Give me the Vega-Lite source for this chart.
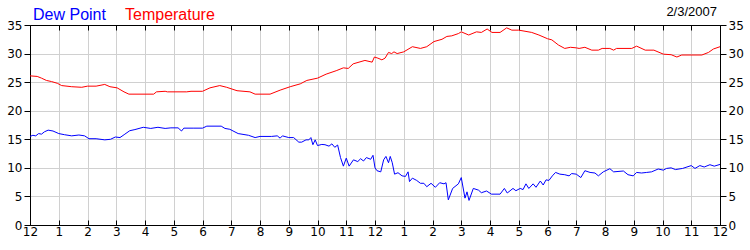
{
  "$schema": "https://vega.github.io/schema/vega-lite/v6.json",
  "width": 690,
  "height": 200,
  "autosize": {"type": "none"},
  "padding": {"left": 30, "top": 25, "right": 30, "bottom": 25},
  "background": "white",
  "title": {"text": "2/3/2007", "anchor": "end", "orient": "top", "frame": "group", "font": "Liberation Sans", "fontSize": 13, "fontWeight": "normal", "color": "#000000", "offset": -30, "dx": -3, "baseline": "alphabetic"},
  "config": {
    "view": {"stroke": "#000000", "strokeWidth": 1},
    "axis": {"labelFont": "DejaVu Sans", "labelFontSize": 12, "labelColor": "#000000", "domainColor": "#000000", "tickColor": "#000000", "gridColor": "#d0d0d0", "gridOpacity": 1, "titleFontSize": 0}
  },
  "data": {"values": [
    {"h":0.0,"s":"Dew Point","v":15.5},{"h":0.1,"s":"Dew Point","v":15.7},{"h":0.2,"s":"Dew Point","v":15.6},{"h":0.3,"s":"Dew Point","v":16.0},{"h":0.4,"s":"Dew Point","v":15.9},{"h":0.5,"s":"Dew Point","v":16.3},{"h":0.63,"s":"Dew Point","v":16.6},{"h":0.8,"s":"Dew Point","v":16.45},{"h":1.0,"s":"Dew Point","v":16.0},{"h":1.2,"s":"Dew Point","v":15.8},{"h":1.45,"s":"Dew Point","v":15.6},{"h":1.7,"s":"Dew Point","v":15.75},{"h":1.9,"s":"Dew Point","v":15.6},{"h":2.05,"s":"Dew Point","v":15.1},{"h":2.3,"s":"Dew Point","v":15.1},{"h":2.6,"s":"Dew Point","v":14.9},{"h":2.8,"s":"Dew Point","v":15.0},{"h":2.97,"s":"Dew Point","v":15.4},{"h":3.13,"s":"Dew Point","v":15.3},{"h":3.3,"s":"Dew Point","v":15.9},{"h":3.47,"s":"Dew Point","v":16.5},{"h":3.65,"s":"Dew Point","v":16.7},{"h":3.94,"s":"Dew Point","v":17.1},{"h":4.2,"s":"Dew Point","v":16.9},{"h":4.45,"s":"Dew Point","v":17.1},{"h":4.7,"s":"Dew Point","v":16.9},{"h":4.9,"s":"Dew Point","v":17.0},{"h":5.15,"s":"Dew Point","v":17.0},{"h":5.27,"s":"Dew Point","v":16.45},{"h":5.35,"s":"Dew Point","v":16.95},{"h":5.7,"s":"Dew Point","v":16.95},{"h":6.0,"s":"Dew Point","v":16.95},{"h":6.15,"s":"Dew Point","v":17.3},{"h":6.65,"s":"Dew Point","v":17.3},{"h":6.78,"s":"Dew Point","v":16.9},{"h":6.95,"s":"Dew Point","v":16.75},{"h":7.24,"s":"Dew Point","v":16.0},{"h":7.6,"s":"Dew Point","v":15.7},{"h":7.83,"s":"Dew Point","v":15.3},{"h":8.0,"s":"Dew Point","v":15.5},{"h":8.4,"s":"Dew Point","v":15.5},{"h":8.6,"s":"Dew Point","v":15.6},{"h":8.7,"s":"Dew Point","v":15.2},{"h":8.78,"s":"Dew Point","v":15.6},{"h":9.0,"s":"Dew Point","v":15.3},{"h":9.17,"s":"Dew Point","v":15.3},{"h":9.35,"s":"Dew Point","v":14.5},{"h":9.45,"s":"Dew Point","v":14.5},{"h":9.6,"s":"Dew Point","v":14.9},{"h":9.7,"s":"Dew Point","v":14.9},{"h":9.77,"s":"Dew Point","v":15.3},{"h":9.84,"s":"Dew Point","v":14.05},{"h":9.92,"s":"Dew Point","v":14.9},{"h":10.0,"s":"Dew Point","v":13.9},{"h":10.15,"s":"Dew Point","v":14.1},{"h":10.26,"s":"Dew Point","v":14.05},{"h":10.4,"s":"Dew Point","v":13.8},{"h":10.5,"s":"Dew Point","v":14.2},{"h":10.6,"s":"Dew Point","v":13.6},{"h":10.7,"s":"Dew Point","v":14.0},{"h":10.8,"s":"Dew Point","v":11.8},{"h":10.9,"s":"Dew Point","v":10.3},{"h":11.0,"s":"Dew Point","v":11.7},{"h":11.1,"s":"Dew Point","v":10.3},{"h":11.25,"s":"Dew Point","v":11.4},{"h":11.4,"s":"Dew Point","v":11.1},{"h":11.5,"s":"Dew Point","v":11.6},{"h":11.6,"s":"Dew Point","v":11.2},{"h":11.7,"s":"Dew Point","v":11.8},{"h":11.85,"s":"Dew Point","v":11.5},{"h":11.93,"s":"Dew Point","v":12.2},{"h":12.0,"s":"Dew Point","v":10.0},{"h":12.07,"s":"Dew Point","v":9.5},{"h":12.2,"s":"Dew Point","v":9.3},{"h":12.3,"s":"Dew Point","v":11.4},{"h":12.38,"s":"Dew Point","v":12.0},{"h":12.47,"s":"Dew Point","v":10.9},{"h":12.53,"s":"Dew Point","v":12.0},{"h":12.6,"s":"Dew Point","v":10.9},{"h":12.68,"s":"Dew Point","v":8.9},{"h":12.8,"s":"Dew Point","v":9.15},{"h":12.94,"s":"Dew Point","v":8.6},{"h":13.06,"s":"Dew Point","v":8.5},{"h":13.15,"s":"Dew Point","v":9.3},{"h":13.2,"s":"Dew Point","v":7.6},{"h":13.3,"s":"Dew Point","v":8.2},{"h":13.45,"s":"Dew Point","v":7.8},{"h":13.58,"s":"Dew Point","v":7.3},{"h":13.7,"s":"Dew Point","v":7.3},{"h":13.8,"s":"Dew Point","v":6.7},{"h":13.95,"s":"Dew Point","v":7.3},{"h":14.1,"s":"Dew Point","v":6.6},{"h":14.25,"s":"Dew Point","v":7.4},{"h":14.4,"s":"Dew Point","v":7.2},{"h":14.47,"s":"Dew Point","v":7.4},{"h":14.55,"s":"Dew Point","v":4.4},{"h":14.7,"s":"Dew Point","v":6.4},{"h":14.9,"s":"Dew Point","v":7.2},{"h":15.0,"s":"Dew Point","v":8.3},{"h":15.13,"s":"Dew Point","v":4.7},{"h":15.2,"s":"Dew Point","v":5.8},{"h":15.27,"s":"Dew Point","v":4.3},{"h":15.42,"s":"Dew Point","v":6.4},{"h":15.6,"s":"Dew Point","v":6.1},{"h":15.7,"s":"Dew Point","v":5.65},{"h":15.88,"s":"Dew Point","v":5.95},{"h":16.05,"s":"Dew Point","v":5.4},{"h":16.35,"s":"Dew Point","v":5.4},{"h":16.5,"s":"Dew Point","v":6.4},{"h":16.6,"s":"Dew Point","v":5.6},{"h":16.8,"s":"Dew Point","v":6.4},{"h":16.9,"s":"Dew Point","v":6.0},{"h":17.05,"s":"Dew Point","v":6.4},{"h":17.15,"s":"Dew Point","v":6.2},{"h":17.25,"s":"Dew Point","v":7.2},{"h":17.35,"s":"Dew Point","v":6.4},{"h":17.5,"s":"Dew Point","v":7.2},{"h":17.6,"s":"Dew Point","v":6.6},{"h":17.75,"s":"Dew Point","v":7.7},{"h":17.85,"s":"Dew Point","v":7.0},{"h":17.95,"s":"Dew Point","v":7.9},{"h":18.05,"s":"Dew Point","v":7.8},{"h":18.17,"s":"Dew Point","v":8.6},{"h":18.28,"s":"Dew Point","v":9.2},{"h":18.43,"s":"Dew Point","v":8.9},{"h":18.6,"s":"Dew Point","v":8.8},{"h":18.75,"s":"Dew Point","v":8.6},{"h":18.84,"s":"Dew Point","v":9.0},{"h":19.0,"s":"Dew Point","v":8.9},{"h":19.16,"s":"Dew Point","v":8.3},{"h":19.3,"s":"Dew Point","v":9.5},{"h":19.48,"s":"Dew Point","v":9.2},{"h":19.65,"s":"Dew Point","v":9.1},{"h":19.77,"s":"Dew Point","v":8.6},{"h":19.94,"s":"Dew Point","v":9.3},{"h":20.17,"s":"Dew Point","v":9.85},{"h":20.3,"s":"Dew Point","v":9.3},{"h":20.64,"s":"Dew Point","v":9.45},{"h":20.8,"s":"Dew Point","v":8.8},{"h":20.98,"s":"Dew Point","v":8.6},{"h":21.1,"s":"Dew Point","v":9.2},{"h":21.27,"s":"Dew Point","v":9.1},{"h":21.45,"s":"Dew Point","v":9.2},{"h":21.62,"s":"Dew Point","v":9.3},{"h":21.85,"s":"Dew Point","v":9.8},{"h":22.03,"s":"Dew Point","v":9.6},{"h":22.14,"s":"Dew Point","v":9.9},{"h":22.3,"s":"Dew Point","v":10.0},{"h":22.45,"s":"Dew Point","v":9.7},{"h":22.7,"s":"Dew Point","v":9.9},{"h":23.0,"s":"Dew Point","v":10.4},{"h":23.13,"s":"Dew Point","v":9.9},{"h":23.3,"s":"Dew Point","v":10.4},{"h":23.45,"s":"Dew Point","v":10.15},{"h":23.65,"s":"Dew Point","v":10.55},{"h":23.8,"s":"Dew Point","v":10.3},{"h":24.0,"s":"Dew Point","v":10.6},
    {"h":0.0,"s":"Temperature","v":26.1},{"h":0.25,"s":"Temperature","v":26.0},{"h":0.4,"s":"Temperature","v":25.7},{"h":0.57,"s":"Temperature","v":25.3},{"h":0.75,"s":"Temperature","v":25.1},{"h":0.95,"s":"Temperature","v":24.8},{"h":1.1,"s":"Temperature","v":24.4},{"h":1.45,"s":"Temperature","v":24.2},{"h":1.8,"s":"Temperature","v":24.1},{"h":2.0,"s":"Temperature","v":24.3},{"h":2.3,"s":"Temperature","v":24.3},{"h":2.6,"s":"Temperature","v":24.6},{"h":2.78,"s":"Temperature","v":24.2},{"h":3.03,"s":"Temperature","v":24.0},{"h":3.27,"s":"Temperature","v":23.3},{"h":3.44,"s":"Temperature","v":22.9},{"h":4.3,"s":"Temperature","v":22.9},{"h":4.4,"s":"Temperature","v":23.3},{"h":4.7,"s":"Temperature","v":23.4},{"h":4.78,"s":"Temperature","v":23.3},{"h":5.45,"s":"Temperature","v":23.3},{"h":5.6,"s":"Temperature","v":23.4},{"h":6.0,"s":"Temperature","v":23.4},{"h":6.26,"s":"Temperature","v":24.0},{"h":6.6,"s":"Temperature","v":24.4},{"h":6.84,"s":"Temperature","v":24.1},{"h":7.2,"s":"Temperature","v":23.5},{"h":7.65,"s":"Temperature","v":23.3},{"h":7.83,"s":"Temperature","v":22.9},{"h":8.35,"s":"Temperature","v":22.9},{"h":8.7,"s":"Temperature","v":23.6},{"h":9.05,"s":"Temperature","v":24.2},{"h":9.4,"s":"Temperature","v":24.7},{"h":9.63,"s":"Temperature","v":25.3},{"h":10.0,"s":"Temperature","v":25.7},{"h":10.3,"s":"Temperature","v":26.4},{"h":10.65,"s":"Temperature","v":27.0},{"h":10.9,"s":"Temperature","v":27.5},{"h":11.07,"s":"Temperature","v":27.4},{"h":11.24,"s":"Temperature","v":28.2},{"h":11.65,"s":"Temperature","v":28.8},{"h":11.9,"s":"Temperature","v":28.5},{"h":11.98,"s":"Temperature","v":29.4},{"h":12.1,"s":"Temperature","v":29.2},{"h":12.24,"s":"Temperature","v":28.9},{"h":12.35,"s":"Temperature","v":29.2},{"h":12.47,"s":"Temperature","v":30.2},{"h":12.58,"s":"Temperature","v":30.0},{"h":12.66,"s":"Temperature","v":30.3},{"h":12.77,"s":"Temperature","v":30.0},{"h":13.0,"s":"Temperature","v":30.3},{"h":13.3,"s":"Temperature","v":31.2},{"h":13.58,"s":"Temperature","v":30.9},{"h":13.8,"s":"Temperature","v":31.2},{"h":14.05,"s":"Temperature","v":32.1},{"h":14.33,"s":"Temperature","v":32.5},{"h":14.5,"s":"Temperature","v":33.0},{"h":14.67,"s":"Temperature","v":33.1},{"h":14.9,"s":"Temperature","v":33.5},{"h":15.0,"s":"Temperature","v":33.8},{"h":15.26,"s":"Temperature","v":33.25},{"h":15.53,"s":"Temperature","v":33.8},{"h":15.7,"s":"Temperature","v":33.7},{"h":15.9,"s":"Temperature","v":34.3},{"h":16.07,"s":"Temperature","v":33.7},{"h":16.35,"s":"Temperature","v":33.7},{"h":16.58,"s":"Temperature","v":34.5},{"h":16.76,"s":"Temperature","v":34.1},{"h":17.0,"s":"Temperature","v":34.1},{"h":17.45,"s":"Temperature","v":33.7},{"h":17.7,"s":"Temperature","v":33.25},{"h":18.0,"s":"Temperature","v":32.6},{"h":18.15,"s":"Temperature","v":32.4},{"h":18.38,"s":"Temperature","v":31.5},{"h":18.6,"s":"Temperature","v":30.9},{"h":18.8,"s":"Temperature","v":31.1},{"h":19.0,"s":"Temperature","v":31.0},{"h":19.1,"s":"Temperature","v":30.9},{"h":19.3,"s":"Temperature","v":31.1},{"h":19.54,"s":"Temperature","v":30.6},{"h":19.77,"s":"Temperature","v":30.6},{"h":19.9,"s":"Temperature","v":30.9},{"h":20.17,"s":"Temperature","v":30.9},{"h":20.3,"s":"Temperature","v":30.6},{"h":20.4,"s":"Temperature","v":30.9},{"h":20.93,"s":"Temperature","v":30.9},{"h":21.1,"s":"Temperature","v":31.3},{"h":21.4,"s":"Temperature","v":30.6},{"h":21.7,"s":"Temperature","v":30.6},{"h":22.03,"s":"Temperature","v":29.9},{"h":22.3,"s":"Temperature","v":29.8},{"h":22.5,"s":"Temperature","v":29.4},{"h":22.67,"s":"Temperature","v":29.75},{"h":23.37,"s":"Temperature","v":29.75},{"h":23.6,"s":"Temperature","v":30.2},{"h":23.77,"s":"Temperature","v":30.8},{"h":24.0,"s":"Temperature","v":31.2}
  ]},
  "layer": [
    {
      "transform": [{"filter": "datum.s == 'Dew Point'"}],
      "mark": {"type": "line", "strokeWidth": 1, "interpolate": "linear"},
      "encoding": {
        "x": {"field": "h", "type": "quantitative", "scale": {"domain": [0, 24], "nice": false, "zero": false},
          "axis": {"orient": "bottom", "title": null, "values": [0,1,2,3,4,5,6,7,8,9,10,11,12,13,14,15,16,17,18,19,20,21,22,23,24], "labelExpr": "datum.value % 12 == 0 ? '12' : '' + (datum.value % 12)", "grid": true, "tickSize": -5, "labelPadding": 6, "labelFlush": false, "labelOverlap": false}},
        "y": {"field": "v", "type": "quantitative", "scale": {"domain": [0, 35], "nice": false},
          "axis": {"orient": "left", "title": null, "values": [0,5,10,15,20,25,30,35], "grid": true, "tickSize": 6, "labelPadding": 2, "labelFlush": false}},
        "color": {"field": "s", "type": "nominal", "scale": {"domain": ["Dew Point", "Temperature"], "range": ["#0000ff", "#ff0000"]},
          "legend": {"orient": "none", "legendX": -16, "legendY": -26, "direction": "horizontal", "title": null, "symbolSize": 0, "symbolOpacity": 0, "symbolStrokeWidth": 0, "labelOffset": 3, "columnPadding": -6, "labelFont": "Liberation Sans", "labelFontSize": 16, "labelBaseline": "top",
            "encode": {"labels": {"update": {"fill": {"scale": "color", "field": "value"}}}}}}
      }
    },
    {
      "transform": [{"filter": "datum.s == 'Temperature'"}],
      "mark": {"type": "line", "strokeWidth": 1, "interpolate": "linear"},
      "encoding": {
        "x": {"field": "h", "type": "quantitative", "scale": {"domain": [0, 24], "nice": false, "zero": false},
          "axis": {"orient": "top", "title": null, "values": [0,1,2,3,4,5,6,7,8,9,10,11,12,13,14,15,16,17,18,19,20,21,22,23,24], "labels": false, "grid": false, "tickSize": -5}},
        "y": {"field": "v", "type": "quantitative", "scale": {"domain": [0, 35], "nice": false},
          "axis": {"orient": "right", "title": null, "values": [0,5,10,15,20,25,30,35], "grid": false, "tickSize": 6, "labelPadding": 2, "labelFlush": false}},
        "color": {"field": "s", "type": "nominal"}
      }
    }
  ],
  "resolve": {"scale": {"x": "independent", "y": "independent"}}
}
